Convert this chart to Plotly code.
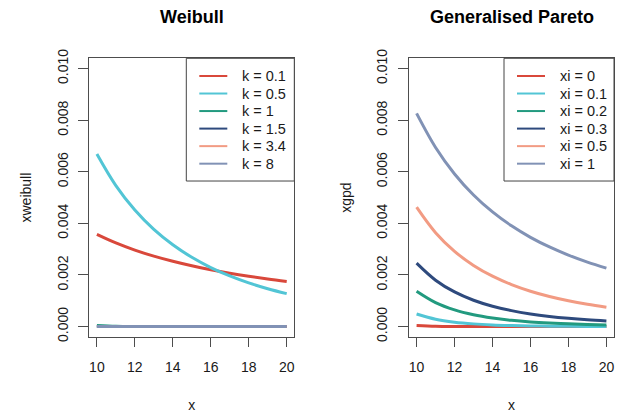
import plotly.graph_objects as go

W, H = 625, 417

x = [10, 11, 12, 13, 14, 15, 16, 17, 18, 19, 20]

# Weibull densities
weib_labels = ["k = 0.1", "k = 0.5", "k = 1", "k = 1.5", "k = 3.4", "k = 8"]
weib_k01 = [0.003575, 0.003242, 0.002965, 0.002730, 0.002530, 0.002356,
            0.002204, 0.002070, 0.001952, 0.001846, 0.001750]
weib_k05 = [0.006693, 0.005468, 0.004519, 0.003768, 0.003170, 0.002685,
            0.002289, 0.001964, 0.001694, 0.001467, 0.001277]
weib_k1 = [0.0000454, 0.0000167, 0.0000061, 0.0000023, 0.0000008, 0.0000003,
           0.0000001, 0.0, 0.0, 0.0, 0.0]
weib_k15 = [0.0] * 11
weib_k34 = [0.0] * 11
weib_k8 = [0.0] * 11

# Generalised Pareto densities
gpd_labels = ["xi = 0", "xi = 0.1", "xi = 0.2", "xi = 0.3", "xi = 0.5", "xi = 1"]
gpd_xi0 = [0.0000454, 0.0000167, 0.0000061, 0.0000023, 0.0000008, 0.0000003,
           0.0000001, 0.0, 0.0, 0.0, 0.0]
gpd_xi01 = [0.000488, 0.000285, 0.000171, 0.000105, 0.0000657, 0.0000419,
            0.0000273, 0.0000180, 0.0000121, 0.0000082, 0.0000056]
gpd_xi02 = [0.001372, 0.000931, 0.000647, 0.000459, 0.000332, 0.000244,
            0.000182, 0.000138, 0.000106, 0.0000818, 0.000064]
gpd_xi03 = [0.002460, 0.001799, 0.001343, 0.001022, 0.000789, 0.000619,
            0.000492, 0.000395, 0.000321, 0.000263, 0.000218]
gpd_xi05 = [0.004630, 0.003641, 0.002915, 0.002370, 0.001953, 0.001628,
            0.001372, 0.001166, 0.001000, 0.000864, 0.000751]
gpd_xi1 = [0.008264, 0.006944, 0.005917, 0.005102, 0.004444, 0.003906,
           0.003460, 0.003086, 0.002770, 0.002500, 0.002268]

y_ticks = [0.000, 0.002, 0.004, 0.006, 0.008, 0.010]
x_ticks = [10, 12, 14, 16, 18, 20]

colors = ["#D9483B", "#52C5D5", "#229A7F", "#2E4A7D", "#F29B83", "#8192B5"]

FONT = "Liberation Sans, Arial, Helvetica, sans-serif"
TXT = "#1a1a1a"

fig = go.Figure()

weib_series = [weib_k01, weib_k05, weib_k1, weib_k15, weib_k34, weib_k8]
for lab, ys, c in zip(weib_labels, weib_series, colors):
    fig.add_trace(go.Scatter(x=x, y=ys, mode="lines", name=lab,
                             line=dict(color=c, width=3, shape="spline"),
                             xaxis="x", yaxis="y", showlegend=False))

gpd_series = [gpd_xi0, gpd_xi01, gpd_xi02, gpd_xi03, gpd_xi05, gpd_xi1]
for lab, ys, c in zip(gpd_labels, gpd_series, colors):
    fig.add_trace(go.Scatter(x=x, y=ys, mode="lines", name=lab,
                             line=dict(color=c, width=3, shape="spline"),
                             xaxis="x2", yaxis="y2", showlegend=False))

box_top = 51.0
box_bot = 339.3
ydom = [1 - box_bot / H, 1 - box_top / H]
p1 = (89.3, 294.3)
p2 = (409.0, 614.0)
xdom1 = [p1[0] / W, p1[1] / W]
xdom2 = [p2[0] / W, p2[1] / W]

axis_common = dict(
    showgrid=False, zeroline=False, showline=True, mirror=True,
    linecolor="#4d4d4d", linewidth=1, ticks="outside", tickcolor="#4d4d4d",
    tickfont=dict(family=FONT, size=14, color=TXT),
)

xaxis_common = dict(axis_common, range=[9.6, 20.4], tickvals=x_ticks,
                    ticklen=9, ticklabelstandoff=8,
                    title=dict(text="x", standoff=26,
                               font=dict(family=FONT, size=14, color=TXT)))
yaxis_common = dict(axis_common, range=[-0.0004, 0.0104], tickvals=y_ticks,
                    tickformat=".3f", tickangle=-90, ticklen=10,
                    ticklabelstandoff=5, domain=ydom)

# hand-built legends (R style): box, short line, label
shapes = []
annotations = []


def add_legend(right_px, width_px, labels):
    left_px = right_px - width_px
    top_px = box_top
    row0 = 69.3
    row_h = 18.15
    bottom_px = top_px + 127
    shapes.append(dict(type="rect", xref="paper", yref="paper",
                       x0=left_px / W, x1=right_px / W,
                       y0=1 - bottom_px / H, y1=1 - top_px / H,
                       line=dict(color="#444444", width=1),
                       fillcolor="white", layer="above"))
    for i, (lab, c) in enumerate(zip(labels, colors)):
        yc = row0 + i * row_h
        shapes.append(dict(type="line", xref="paper", yref="paper",
                           x0=(left_px + 13) / W, x1=(left_px + 41) / W,
                           y0=1 - yc / H, y1=1 - yc / H,
                           line=dict(color=c, width=2), layer="above"))
        annotations.append(dict(text=lab, x=(left_px + 53.5) / W,
                                y=1 - yc / H, xref="paper", yref="paper",
                                showarrow=False, xanchor="left",
                                yanchor="middle",
                                font=dict(family=FONT, size=14.5, color=TXT)))


add_legend(p1[1], 108, weib_labels)
add_legend(p2[1], 110, gpd_labels)

annotations += [
    dict(text="<b>Weibull</b>", x=(xdom1[0] + xdom1[1]) / 2, y=1 - 8 / H,
         xref="paper", yref="paper", showarrow=False,
         xanchor="center", yanchor="middle",
         font=dict(family=FONT, size=18, color="black")),
    dict(text="<b>Generalised Pareto</b>", x=(xdom2[0] + xdom2[1]) / 2,
         y=1 - 8 / H, xref="paper", yref="paper", showarrow=False,
         xanchor="center", yanchor="middle",
         font=dict(family=FONT, size=18, color="black")),
]

fig.update_layout(
    width=W, height=H,
    margin=dict(l=0, r=0, t=0, b=0),
    paper_bgcolor="white", plot_bgcolor="white",
    font=dict(family=FONT, size=14, color=TXT),
    xaxis=dict(xaxis_common, domain=xdom1, anchor="y"),
    yaxis=dict(yaxis_common, anchor="x",
               title=dict(text="xweibull", standoff=19,
                          font=dict(family=FONT, size=14, color=TXT))),
    xaxis2=dict(xaxis_common, domain=xdom2, anchor="y2"),
    yaxis2=dict(yaxis_common, anchor="x2",
                title=dict(text="xgpd", standoff=19,
                           font=dict(family=FONT, size=14, color=TXT))),
    showlegend=False,
    shapes=shapes,
    annotations=annotations,
)

fig.write_html("out.html")
